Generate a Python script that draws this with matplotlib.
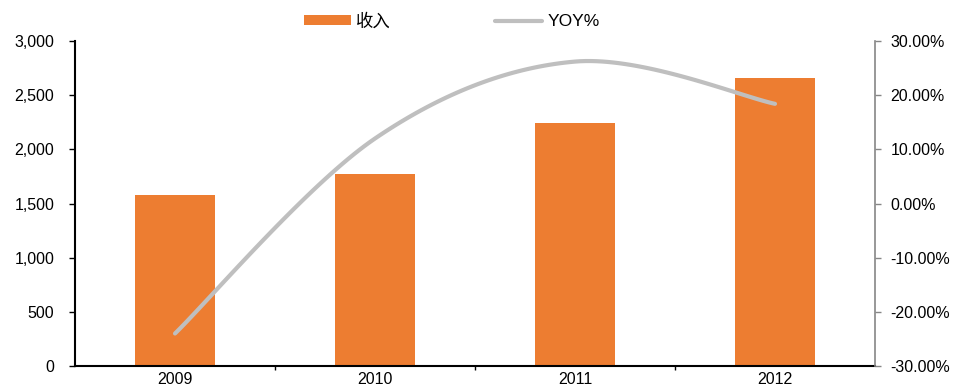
import numpy as np
import matplotlib
matplotlib.use("Agg")
import matplotlib.pyplot as plt
from matplotlib.ticker import FuncFormatter, FixedLocator

plt.rcParams['font.family'] = ['Liberation Sans', 'Noto Sans CJK SC', 'DejaVu Sans']

years = ['2009', '2010', '2011', '2012']
revenue = [1583, 1768, 2241, 2657]
yoy = [-24.0, 12.0, 26.2, 18.4]

FS = 11.5

fig = plt.figure(figsize=(9.59, 3.87), dpi=100)
ax = fig.add_axes([75/959, 21/387, 800/959, 325/387])
ax2 = ax.twinx()

x = np.arange(len(years))
ax.bar(x, revenue, width=0.4, color='#ED7D31', label='收入', zorder=2)
ax.set_xlim(-0.5, len(years) - 0.5)
ax.set_ylim(0, 3000)
ax.set_yticks(np.arange(0, 3001, 500))
ax.yaxis.set_major_formatter(FuncFormatter(lambda v, p: f"{int(v):,}"))
ax.set_xticks(x)
ax.set_xticklabels(years)
ax.xaxis.set_minor_locator(FixedLocator(np.arange(0.5, len(years) - 0.5, 1.0)))
ax.tick_params(axis='x', which='major', length=0, labelsize=FS, pad=4)
ax.tick_params(axis='x', which='minor', length=3, direction='out', width=1)
ax.tick_params(axis='y', length=4, direction='out', width=1, labelsize=FS, pad=11)
for s in ['top', 'right']:
    ax.spines[s].set_visible(False)
ax.spines['left'].set_linewidth(1.5)
ax.spines['bottom'].set_linewidth(1.5)

# Catmull-Rom smoothing of the YOY points (like Excel smoothed line)
def catmull(xs, ys, n=40):
    P = np.column_stack([xs, ys]).astype(float)
    P = np.vstack([P[0], P, P[-1]])
    out = []
    for i in range(1, len(P) - 2):
        p0, p1, p2, p3 = P[i-1], P[i], P[i+1], P[i+2]
        t = np.linspace(0, 1, n)[:, None]
        seg = 0.5 * ((2*p1) + (-p0 + p2)*t + (2*p0 - 5*p1 + 4*p2 - p3)*t**2 + (-p0 + 3*p1 - 3*p2 + p3)*t**3)
        out.append(seg if i == 1 else seg[1:])
    out = np.vstack(out)
    return out[:, 0], out[:, 1]

sx, sy = catmull(x, yoy)
ax2.plot(sx, sy, color='#BFBFBF', lw=3, solid_capstyle='round', label='YOY%', zorder=3)
ax2.set_ylim(-30, 30)
ax2.set_yticks(np.arange(-30, 31, 10))
ax2.yaxis.set_major_formatter(FuncFormatter(lambda v, p: f"{v:.2f}%"))
ax2.tick_params(axis='y', length=4, direction='out', width=1, color='#868686', labelsize=FS, pad=7)
for s in ['top', 'left', 'bottom']:
    ax2.spines[s].set_visible(False)
ax2.spines['right'].set_color('#868686')
ax2.spines['right'].set_linewidth(1.2)

h1, l1 = ax.get_legend_handles_labels()
h2, l2 = ax2.get_legend_handles_labels()
fig.legend(h1 + h2, l1 + l2, loc='center', bbox_to_anchor=(452/959, 1 - 21/387), ncol=2,
           frameon=False, fontsize=12.5, handlelength=2.7, handleheight=0.45,
           columnspacing=6.0, handletextpad=0.3)

fig.savefig('out.png', dpi=100)
